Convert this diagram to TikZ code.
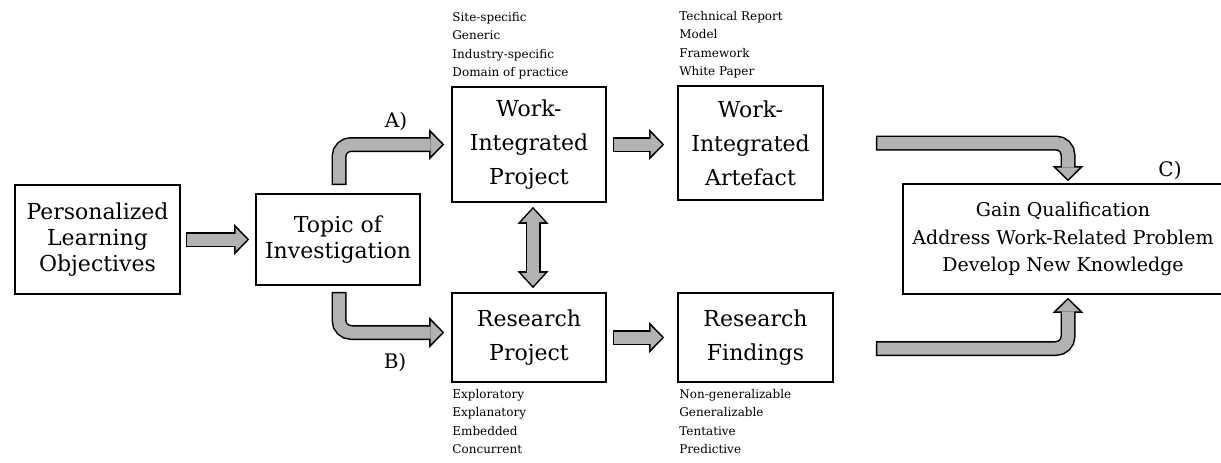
\documentclass[tikz,border=0pt]{standalone}
\usepackage{fontspec}
\setmainfont{DejaVu Serif}
\usetikzlibrary{calc,arrows.meta}

\tikzset{
  box/.style={draw, line width=1.6pt, align=center, inner sep=0pt},
  smallbox/.style={box, font=\fontsize{22}{26}\selectfont},
  midbox/.style={box, font=\fontsize{22}{34}\selectfont},
  goalbox/.style={box, font=\fontsize{19}{27.5}\selectfont},
  note/.style={align=left, inner sep=0pt, font=\fontsize{12}{18.5}\selectfont},
  tag/.style={inner sep=0pt, font=\fontsize{20}{22}\selectfont},
  fat/.style={line width=15pt, draw=black, rounded corners=12pt,
    -{Triangle[width=31pt,length=15pt,line width=0pt]},
    postaction={draw=black!30, line width=12pt, shorten <=1.5pt, shorten >=2.1pt,
      -{Triangle[width=23pt,length=11.4pt,line width=0pt]}}},
  fatboth/.style={line width=15pt, draw=black,
    {Triangle[width=31pt,length=17pt,line width=0pt]}-{Triangle[width=31pt,length=17pt,line width=0pt]},
    postaction={draw=black!30, line width=12pt, shorten <=2.2pt, shorten >=2.2pt,
      {Triangle[width=24pt,length=13.2pt,line width=0pt]}-{Triangle[width=24pt,length=13.2pt,line width=0pt]}}}
}

\begin{document}
\begin{tikzpicture}[x=1pt,y=-1pt]
  \useasboundingbox (0,0) rectangle (1221,463);
  \clip (0,0) rectangle (1221,463);

  % boxes
  \draw (97.5,239.5) node[smallbox, minimum width=165pt, minimum height=109pt] (plo) {Personalized\\Learning\\Objectives};
  \draw (338,239.5) node[smallbox, minimum width=164pt, minimum height=91pt] (topic) {Topic of\\Investigation};
  \draw (529,144.5) node[midbox, minimum width=154pt, minimum height=115pt] (wip) {Work-\\Integrated\\Project};
  \draw (750.5,143) node[midbox, minimum width=145pt, minimum height=114pt] (wia) {Work-\\Integrated\\Artefact};
  \draw (529,337.5) node[midbox, minimum width=154pt, minimum height=89pt] (rp) {Research\\Project};
  \draw (755.5,337.5) node[midbox, minimum width=155pt, minimum height=89pt] (rf) {Research\\Findings};
  \draw (1063,239) node[goalbox, minimum width=320pt, minimum height=110pt] (goal) {Gain Qualification\\Address Work-Related Problem\\Develop New Knowledge};

  % lists
  \node[note, anchor=south west] (wipnote) at ($(wip.north west)+(1,-7)$) {Site-specific\\Generic\\Industry-specific\\Domain of practice};
  \node[note, anchor=south west] (wianote) at ($(wia.north west)+(2,-7)$) {Technical Report\\Model\\Framework\\White Paper};
  \node[note, anchor=north west] (rpnote) at ($(rp.south west)+(1,6)$) {Exploratory\\Explanatory\\Embedded\\Concurrent};
  \node[note, anchor=north west] (rfnote) at ($(rf.south west)+(2,6)$) {Non-generalizable\\Generalizable\\Tentative\\Predictive};

  \node[tag] (tagA) at (396,121) {A)};
  \node[tag] (tagB) at (395,362) {B)};
  \node[tag] (tagC) at (1170,170) {C)};

  % arrows
  \draw[fat] ($(plo.east)+(5,0)$) -- ($(topic.west)+(-6,0)$);
  \draw[fat] ($(topic.north)+(1,-8)$) |- ($(wip.west)+(-7,0)$);
  \draw[fat] ($(topic.south)+(1,6)$) |- ($(rp.west)+(-7,-5)$);
  \draw[fat] ($(wip.east)+(6,0)$) -- ($(wip.east -| wia.west)+(-13,0)$);
  \draw[fat] ($(rp.east)+(6,0)$) -- ($(rp.east -| rf.west)+(-13,0)$);
  \draw[fatboth] ($(wip.south)+(4,4)$) -- ($(rp.north)+(4,-4)$);
  \draw[fat] ($(wia.east)+(52,0)$) -| ($(goal.north)+(5,-2)$);
  \draw[fat] ($(rf.east)+(42,11)$) -| ($(goal.south)+(5,3)$);
\end{tikzpicture}
\end{document}
